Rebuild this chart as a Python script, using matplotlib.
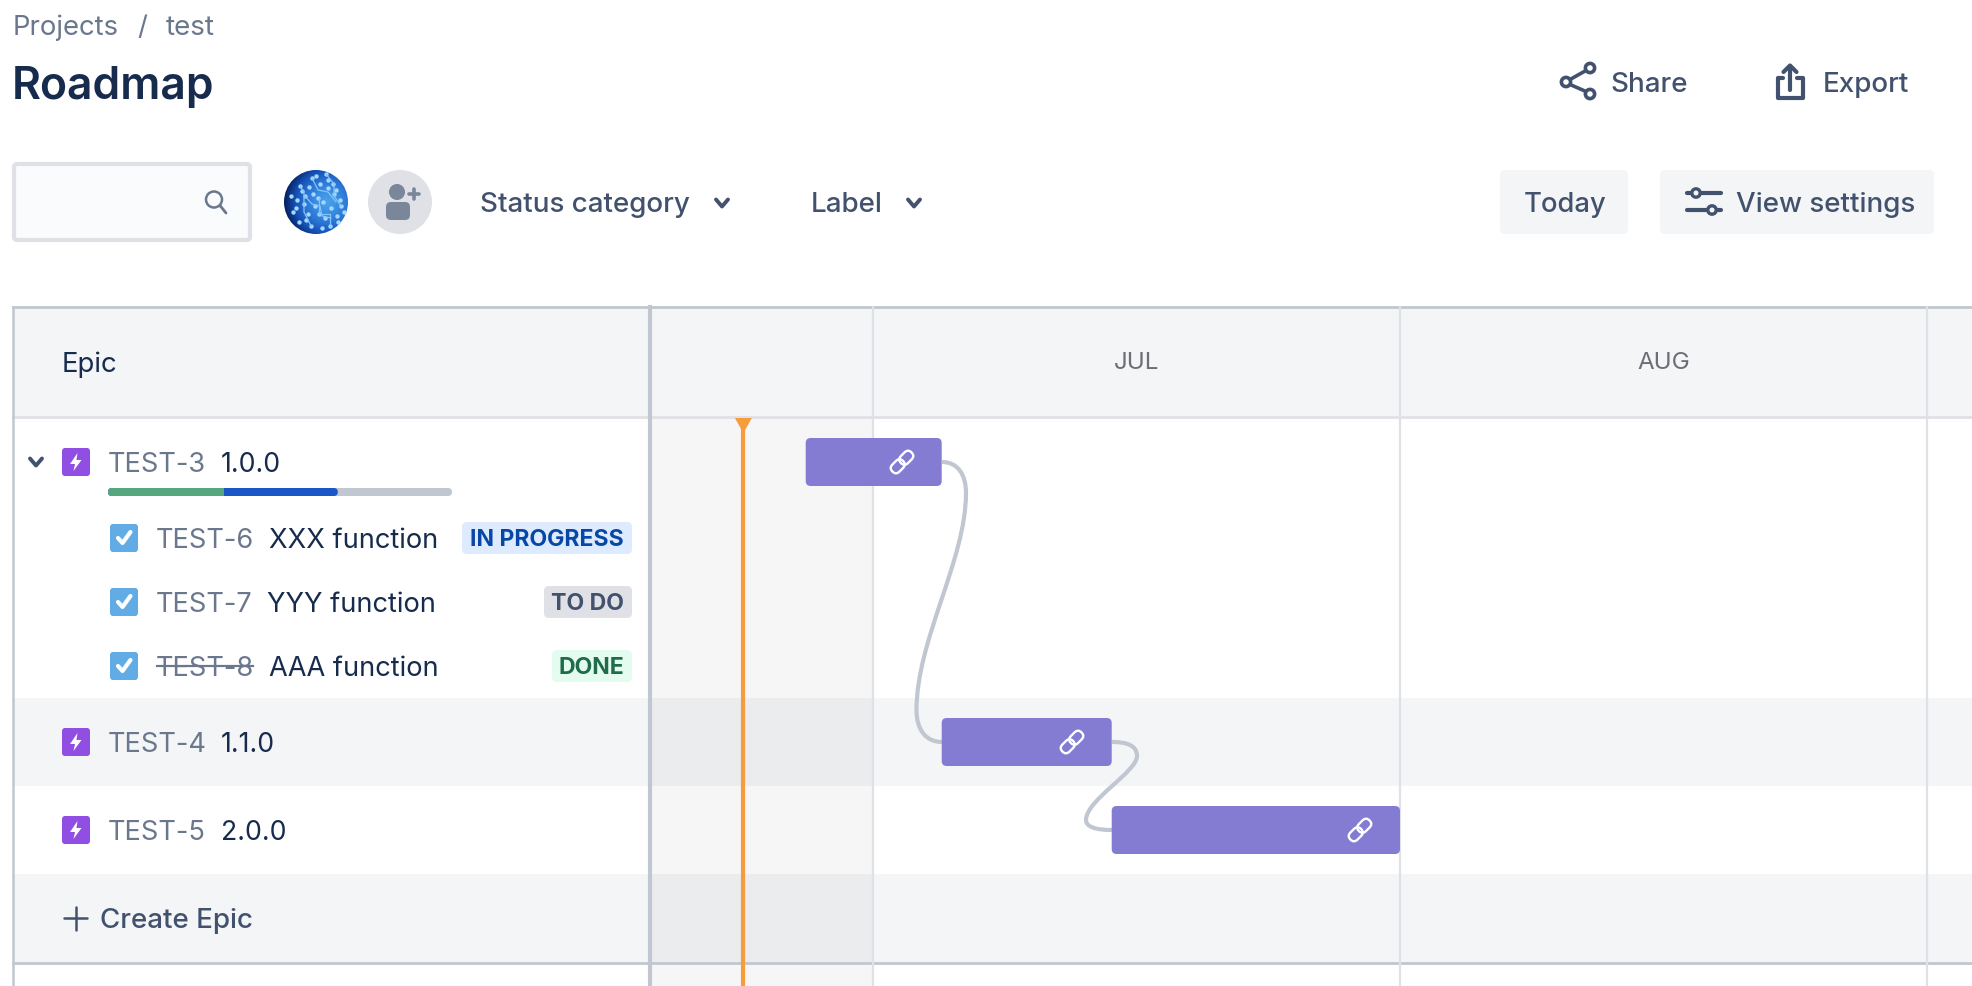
import datetime as dt
import numpy as np
import matplotlib
matplotlib.use('Agg')
import matplotlib.pyplot as plt
import matplotlib.dates as mdates
from matplotlib.patches import FancyBboxPatch, Circle, Rectangle, Polygon, PathPatch
from matplotlib.path import Path
from matplotlib.transforms import Affine2D

plt.rcParams['font.family'] = ['Inter', 'DejaVu Sans']

# roadmap data
epic_keys = ['TEST-3', 'TEST-4', 'TEST-5']
epic_names = ['1.0.0', '1.1.0', '2.0.0']
epic_start = [dt.datetime(2021, 6, 27, 1), dt.datetime(2021, 7, 5, 1), dt.datetime(2021, 7, 15, 1)]
epic_end = [dt.datetime(2021, 7, 5, 1), dt.datetime(2021, 7, 15, 1), dt.datetime(2021, 8, 1, 0)]
today = dt.datetime(2021, 6, 23, 9)
month_labels = ['JUL', 'AUG']
month_starts = [dt.date(2021, 7, 1), dt.date(2021, 8, 1), dt.date(2021, 9, 1)]
task_keys = ['TEST-6', 'TEST-7', 'TEST-8']
task_names = ['XXX function', 'YYY function', 'AAA function']
task_status = ['IN PROGRESS', 'TO DO', 'DONE']
progress_done = 0.338
progress_doing = 0.33
progress_todo = 0.332

DARK = '#172b4d'
GREY = '#6b778c'
MID = '#42526e'
LINE = '#c1c7d0'
LIGHT = '#dfe1e6'
ROW = '#f4f5f7'
PANE = '#f6f6f7'
PANE_ROW = '#ebecee'
BAR = '#847bd3'

fig = plt.figure(figsize=(19.72, 9.86), dpi=100)
ax = fig.add_axes([0, 0, 1, 1])
ax.set_xlim(0, 1972)
ax.set_ylim(986, 0)
ax.axis('off')


def txt(x, y, s, size=18, color=DARK, weight='normal', ha='left'):
    return ax.text(x, y, s, fontsize=size, color=color, fontweight=weight, ha=ha, va='baseline', zorder=6)


def rbox(x0, y0, x1, y1, r, fc, ec='none', lw=0, z=2):
    p = FancyBboxPatch((x0, y0), x1 - x0, y1 - y0, boxstyle='round,pad=0,rounding_size=%g' % r,
                       fc=fc, ec=ec, lw=lw, zorder=z)
    ax.add_patch(p)
    return p


def stroke(xs, ys, color=MID, lw=3, z=7):
    ax.plot(xs, ys, color=color, lw=lw, solid_capstyle='round', solid_joinstyle='round', zorder=z)


def chevron(x, y, color=MID):
    stroke([x - 6, x, x + 6], [y - 3.5, y + 3.5, y - 3.5], color, lw=2.8)


# top header
txt(13, 35, 'Projects', 19.8, GREY)
txt(137, 35, '/', 19.8, GREY)
txt(166, 35, 'test', 20, GREY)
txt(12, 99, 'Roadmap', 32, DARK, 'semibold')

# share
for cx, cy in [(1566, 82), (1590, 68), (1590, 94)]:
    ax.add_patch(Circle((cx, cy), 4.6, fc='white', ec=MID, lw=2.6, zorder=7))
stroke([1570, 1586], [79.5, 70.5], lw=2.6, z=6)
stroke([1570, 1586], [84.5, 91.5], lw=2.6, z=6)
txt(1610, 92, 'Share', 20, MID, 'medium')

# export
stroke([1783, 1778, 1778, 1803, 1803, 1797], [78, 78, 98, 98, 78, 78], lw=3)
stroke([1790, 1790], [67, 90], lw=3)
stroke([1783.5, 1790, 1796.5], [72, 65.5, 72], lw=3)
txt(1823, 92, 'Export', 20, MID, 'medium')

# filter row
rbox(14, 164, 250, 240, 3, '#fafbfc', LIGHT, 3)
ax.add_patch(Circle((214, 199.5), 8, fc='none', ec=GREY, lw=1.8, zorder=7))
stroke([220, 226], [205.5, 213], GREY, 2)

# avatar picture, a blue disc with a handful of light specks
yy, xx = np.mgrid[-1:1:80j, -1:1:80j]
shade = np.clip(np.hypot(xx - 0.35, yy + 0.0), 0, 1.35) / 1.35
cmap = matplotlib.colors.LinearSegmentedColormap.from_list('av', ['#4aa3ec', '#3a8fe4', '#2a74d4', '#1450b4', '#04205f'])
im = ax.imshow(shade, extent=(284, 348, 234, 170), cmap=cmap, aspect='auto', zorder=3, interpolation='bilinear')
im.set_clip_path(Circle((316, 202), 32, transform=ax.transData))
ax.set_xlim(0, 1972)
ax.set_ylim(986, 0)
speck_x = [300, 305, 312, 320, 328, 336, 340, 296, 308, 318, 331, 344, 299, 311, 325, 338, 304, 322, 315, 334,
           291, 293, 302, 309, 316, 326, 333, 341, 306, 319, 330, 337, 297, 313, 323, 328]
speck_y = [186, 196, 178, 184, 180, 190, 200, 208, 214, 198, 208, 212, 222, 226, 218, 222, 204, 228, 206, 194,
           196, 212, 191, 187, 176, 174, 184, 206, 220, 214, 226, 216, 200, 194, 202, 188]
ax.scatter(speck_x, speck_y, s=10, c='#a6d8ff', lw=0, zorder=4)
circuit = '#86c4f7'
stroke([305, 312, 320, 322, 331], [196, 204, 206, 216, 218], circuit, 0.9, 4)
stroke([312, 318, 328, 336], [178, 190, 192, 202], circuit, 0.9, 4)
stroke([300, 304, 304, 311], [186, 192, 212, 226], circuit, 0.9, 4)
stroke([326, 334, 334, 341], [174, 184, 196, 206], circuit, 0.9, 4)
stroke([319, 319, 330, 330], [198, 214, 214, 226], circuit, 0.9, 4)

# add people
ax.add_patch(Circle((400, 202), 32, fc=LIGHT, zorder=3))
ax.add_patch(Circle((397, 192), 8, fc='#7a869a', zorder=4))
rbox(386, 202, 410, 220, 5, '#7a869a', z=4)
stroke([409, 419], [194, 194], '#7a869a', 2.6)
stroke([414, 414], [189, 199], '#7a869a', 2.6)

txt(480, 212, 'Status category', 20, MID, 'medium')
chevron(722, 203)
txt(811, 212, 'Label', 20, MID, 'medium')
chevron(914, 203)

rbox(1500, 170, 1628, 234, 5, ROW)
txt(1524, 212, 'Today', 19.7, MID, 'medium')
rbox(1660, 170, 1934, 234, 5, ROW)
txt(1736, 212, 'View settings', 20, MID, 'medium')
stroke([1687, 1721], [193, 193], lw=3)
stroke([1687, 1721], [210, 210], lw=3)
ax.add_patch(Circle((1696, 193), 4.2, fc=ROW, ec=MID, lw=2.4, zorder=8))
ax.add_patch(Circle((1712, 210), 4.2, fc=ROW, ec=MID, lw=2.4, zorder=8))

# table background
ax.add_patch(Rectangle((13, 307), 1959, 110, fc=ROW, zorder=1))
ax.add_patch(Rectangle((13, 698), 1959, 88, fc=ROW, zorder=1))
ax.add_patch(Rectangle((13, 874), 1959, 89, fc=ROW, zorder=1))
ax.add_patch(Rectangle((651, 417), 222, 569, fc=PANE, zorder=1.2))
ax.add_patch(Rectangle((651, 698), 222, 88, fc=PANE_ROW, zorder=1.3))
ax.add_patch(Rectangle((651, 874), 222, 89, fc=PANE_ROW, zorder=1.3))
ax.plot([13, 1972], [307, 307], color=LINE, lw=2, zorder=3)
ax.plot([13, 1972], [417, 417], color=LIGHT, lw=2, zorder=3)
ax.plot([13, 1972], [963, 963], color=LINE, lw=2, zorder=3)
ax.plot([13, 13], [307, 986], color=LINE, lw=1.8, zorder=3)
ax.plot([650, 650], [307, 986], color=LINE, lw=3, zorder=3)

txt(62, 372, 'Epic', 19.8, DARK)
stroke([64, 87], [918, 918], MID, 1.8)
stroke([75.5, 75.5], [907, 930], MID, 1.8)
txt(100, 928, 'Create Epic', 20, MID, 'medium')

# left column, epics
epic_base = [472, 752, 840]
for key, name, base in zip(epic_keys, epic_names, epic_base):
    rbox(62, base - 24, 90, base + 4, 3, '#904ee2', z=4)
    ax.add_patch(Polygon([(77.5, base - 19), (70, base - 8), (75, base - 8), (73.5, base - 1),
                          (81.5, base - 12), (76.5, base - 12)], fc='white', zorder=5))
    txt(108, base, key, 19.6, GREY)
    txt(221, base, name, 19.2, DARK)
chevron(36, 462)

# progress of TEST-3
bar_x0, bar_w = 108, 344
rbox(bar_x0, 488, bar_x0 + bar_w, 496, 4, LINE, z=3)
doing_end = bar_x0 + bar_w * (progress_done + progress_doing)
rbox(bar_x0, 488, doing_end, 496, 4, '#1a56c6', z=4)
rbox(bar_x0, 488, bar_x0 + bar_w * progress_done + 5, 496, 4, '#57a77e', z=4.5)
ax.add_patch(Rectangle((bar_x0 + bar_w * progress_done, 488), 6, 8, fc='#1a56c6', zorder=4.6))

# left column, tasks
task_base = [548, 612, 676]
name_x = [269, 267, 269]
badge_x0 = [462, 544, 552]
badge_fc = ['#deebff', LIGHT, '#e3fcef']
badge_fg = ['#0747a6', MID, '#1f6b4a']
for i in range(3):
    b = task_base[i]
    rbox(110, b - 24, 138, b + 4, 3, '#62ace6', z=4)
    stroke([118, 122.5, 130.5], [b - 10, b - 5, b - 16], 'white', 3)
    txt(156, b, task_keys[i], 19.6, GREY)
    txt(name_x[i], b, task_names[i], 19.6, DARK)
    rbox(badge_x0[i], b - 26, 632, b + 6, 5, badge_fc[i], z=4)
    txt(624, b - 2, task_status[i], 16.6, badge_fg[i], 'bold', ha='right')
ax.plot([157, 253], [666, 666], color=GREY, lw=1.6, zorder=7)

# timeline axes on top, x is a date scale, y stays in pixels
px_jul, px_sep = 873.0, 1927.0
d_jul, d_sep = mdates.date2num(month_starts[0]), mdates.date2num(month_starts[2])
px_day = (px_sep - px_jul) / (d_sep - d_jul)
tl = fig.add_axes([0, 0, 1, 1], facecolor='none')
tl.set_xlim(d_jul - px_jul / px_day, d_jul + (1972 - px_jul) / px_day)
tl.set_ylim(986, 0)
tl.axis('off')

for m in month_starts:
    tl.plot([mdates.date2num(m)] * 2, [307, 986], color=LIGHT, lw=1.6, zorder=1)
for lab, a, b in zip(month_labels, month_starts[:-1], month_starts[1:]):
    mid = (mdates.date2num(a) + mdates.date2num(b)) / 2
    tl.text(mid, 369, lab, fontsize=17.4, color='#6b6e76', ha='center', va='baseline')

t = mdates.date2num(today)
tl.plot([t, t], [420, 986], color='#f79c3c', lw=3, zorder=2, solid_capstyle='butt')
tl.add_patch(Polygon([(t - 8.5 / px_day, 418), (t + 8.5 / px_day, 418), (t, 433)], fc='#f79c3c', zorder=2))

# connectors between epics
C = Path.CURVE4
link_a = Path([(942, 462), (958, 462), (966, 475), (966, 493), (966, 560), (916.5, 640), (916.5, 710),
               (916.5, 730), (926, 742), (942, 742)], [Path.MOVETO, C, C, C, C, C, C, C, C, C])
link_b = Path([(1112, 742), (1128, 742), (1137, 746), (1137, 756), (1137, 772), (1086, 800), (1086, 820),
               (1086, 827), (1096, 830), (1112, 830)], [Path.MOVETO, C, C, C, C, C, C, C, C, C])
for pth in (link_a, link_b):
    tl.add_patch(PathPatch(pth, fc='none', ec=LINE, lw=3, transform=ax.transData, zorder=3))

# epic bars
row_y = [462, 742, 830]
bar_h = 48
for s, e, y in zip(epic_start, epic_end, row_y):
    x0, x1 = mdates.date2num(s), mdates.date2num(e)
    tl.add_patch(FancyBboxPatch((x0, y - bar_h / 2), x1 - x0, bar_h,
                                boxstyle='round,pad=0,rounding_size=%g' % (5 / px_day),
                                mutation_aspect=px_day, fc=BAR, ec='none', zorder=4))

# link icons on the bars
link_x = [902, 1072, 1360]
for lx, ly in zip(link_x, row_y):
    for off in (-6, 6):
        rot = Affine2D().translate(off, 0).rotate_deg(-45).translate(lx, ly) + ax.transData
        tl.add_patch(FancyBboxPatch((-7.5, -5), 15, 10, boxstyle='round,pad=0,rounding_size=4.9', fc='none',
                                    ec='white', lw=1.7, transform=rot, zorder=5))

fig.savefig('out.png', dpi=100)
